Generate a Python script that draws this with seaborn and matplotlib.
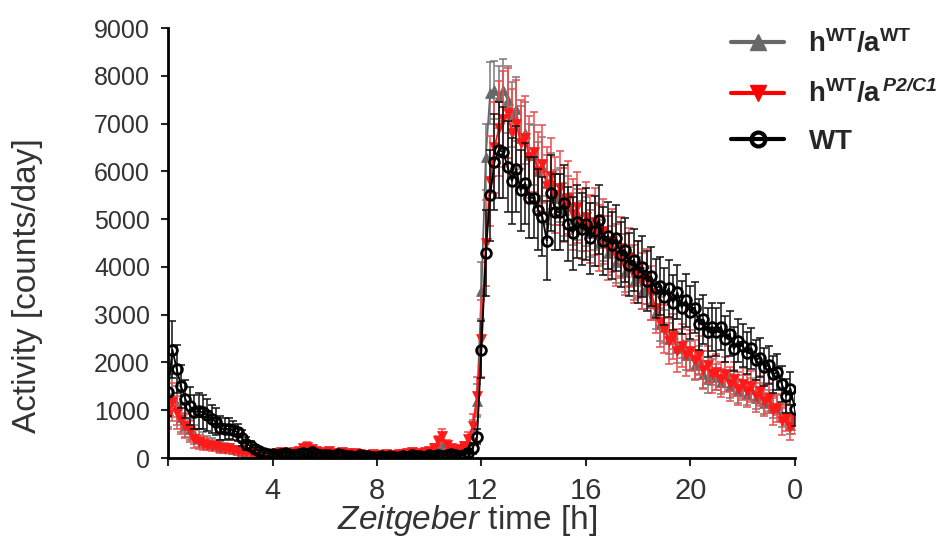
import numpy as np
import pandas as pd
import matplotlib
matplotlib.use("Agg")
import matplotlib.pyplot as plt
from matplotlib import font_manager
from matplotlib.lines import Line2D
import seaborn as sns

# time grid: 10 min bins over one day (ZT0 .. ZT24)
zt = np.arange(145) / 6.0

# h WT / a WT  (grey, up triangles)
grey_val = [
    1000, 1300, 1100, 850, 700, 600,
    500, 420, 380, 330, 300, 270,
    240, 220, 200, 180, 160, 140,
    130, 110, 100, 90, 80, 70,
    80, 90, 100, 90, 80, 100,
    110, 130, 150, 140, 120, 100,
    90, 100, 80, 90, 100, 80,
    70, 80, 60, 70, 60, 70,
    60, 50, 70, 60, 60, 80,
    70, 90, 100, 80, 90, 110,
    120, 150, 200, 250, 200, 160,
    140, 160, 220, 350, 600, 1200,
    3500, 6300, 7640, 7700, 7560, 7700,
    7500, 7200, 7300, 6700, 6800, 6350,
    6350, 6000, 6100, 5750, 5800, 5450,
    5500, 5200, 5350, 5000, 5100, 4850,
    4950, 4700, 4850, 4500, 4600, 4300,
    4400, 4100, 4250, 3900, 4000, 3700,
    3800, 3500, 3600, 3250, 3050, 2800,
    2750, 2500, 2600, 2300, 2400, 2150,
    2150, 1950, 2050, 1750, 1650, 1800,
    1700, 1600, 1750, 1500, 1600, 1400,
    1500, 1350, 1450, 1250, 1350, 1150,
    1200, 1050, 1100, 850, 900, 700,
    900,
]
grey_err = [
    350, 450, 400, 300, 250, 220,
    200, 180, 160, 140, 120, 110,
    100, 90, 80, 70, 60, 60,
    50, 50, 40, 40, 40, 40,
    40, 40, 50, 40, 40, 50,
    50, 60, 60, 60, 50, 50,
    40, 50, 40, 40, 50, 40,
    40, 40, 30, 40, 30, 40,
    30, 30, 40, 30, 30, 40,
    40, 40, 50, 40, 40, 50,
    50, 60, 80, 90, 80, 60,
    60, 60, 80, 120, 200, 350,
    600, 700, 650, 600, 650, 650,
    700, 680, 670, 660, 650, 640,
    630, 620, 610, 600, 590, 580,
    570, 560, 550, 540, 530, 520,
    510, 500, 490, 480, 470, 460,
    450, 440, 430, 420, 410, 400,
    400, 390, 380, 370, 360, 350,
    340, 330, 320, 320, 310, 300,
    300, 290, 290, 280, 280, 270,
    270, 260, 260, 250, 250, 250,
    240, 240, 230, 230, 220, 220,
    220, 210, 210, 200, 200, 190,
    200,
]

# h WT / a P2/C1  (red, down triangles)
red_val = [
    900, 1170, 950, 800, 670, 560,
    400, 330, 300, 280, 250, 260,
    200, 190, 210, 160, 140, 120,
    120, 100, 90, 80, 70, 80,
    90, 100, 120, 110, 90, 120,
    150, 200, 240, 180, 150, 120,
    110, 140, 100, 90, 120, 100,
    80, 100, 90, 70, 60, 80,
    60, 50, 80, 60, 70, 90,
    80, 100, 120, 90, 110, 130,
    150, 220, 350, 460, 280, 200,
    150, 180, 250, 400, 670, 1300,
    2500, 4500, 5800, 6500, 6900, 7100,
    7220, 6800, 7000, 6600, 6700, 6300,
    6400, 6000, 6150, 5700, 5900, 5500,
    5650, 5300, 5450, 5100, 5250, 4900,
    5050, 4800, 4950, 4600, 4750, 4400,
    4550, 4250, 4400, 4050, 4200, 3850,
    3950, 3700, 3800, 3450, 3150, 2850,
    2700, 2450, 2550, 2250, 2350, 2150,
    2250, 2050, 2150, 1850, 1950, 1750,
    1800, 1650, 1750, 1550, 1650, 1450,
    1550, 1400, 1500, 1300, 1400, 1200,
    1250, 1000, 1050, 780, 850, 650,
    800,
]
red_err = [
    300, 400, 350, 300, 250, 220,
    180, 150, 130, 120, 110, 100,
    90, 80, 80, 70, 60, 60,
    50, 50, 40, 40, 40, 40,
    40, 40, 50, 50, 40, 50,
    60, 80, 90, 70, 60, 50,
    50, 60, 40, 40, 50, 40,
    40, 40, 40, 30, 30, 40,
    30, 30, 40, 30, 30, 40,
    40, 40, 50, 40, 50, 50,
    60, 80, 120, 150, 100, 80,
    60, 70, 90, 140, 250, 400,
    800, 900, 950, 950, 1000, 1000,
    950, 930, 910, 890, 870, 850,
    840, 830, 820, 810, 800, 790,
    780, 770, 760, 750, 740, 730,
    720, 710, 700, 690, 680, 670,
    660, 650, 640, 630, 620, 610,
    600, 590, 580, 560, 540, 520,
    500, 480, 470, 460, 450, 440,
    430, 420, 410, 400, 390, 380,
    380, 370, 360, 360, 350, 350,
    340, 340, 330, 330, 320, 320,
    310, 300, 300, 290, 290, 280,
    300,
]

# WT  (black, open circles)
wt_val = [
    1380, 2270, 1860, 1500, 1230, 1090,
    960, 980, 960, 900, 820, 760,
    620, 600, 610, 580, 540, 420,
    300, 250, 190, 150, 110, 90,
    80, 60, 90, 110, 70, 60,
    80, 100, 90, 120, 80, 60,
    70, 60, 50, 80, 60, 40,
    50, 30, 60, 40, 50, 30,
    20, 40, 30, 50, 20, 30,
    40, 30, 60, 50, 40, 30,
    60, 40, 70, 50, 60, 80,
    60, 50, 70, 110, 200, 450,
    2270, 4300, 5500, 6200, 6450, 6400,
    6100, 5800, 6050, 5600, 5750, 5450,
    5450, 5200, 5050, 4550, 5550, 5150,
    5150, 5340, 4900, 4700, 4950, 4800,
    4900, 4600, 4750, 4990, 4550, 4650,
    4450, 4600, 4250, 4350, 4050, 4150,
    3900, 4000, 3700, 3800, 3550, 3600,
    3380, 3550, 3250, 3470, 3150, 3300,
    3050, 3150, 2800, 2900, 2630, 2750,
    2630, 2750, 2500, 2600, 2280, 2450,
    2350, 2200, 2300, 2050, 2100, 1900,
    1950, 1750, 1800, 1550, 1300, 1450,
    1020,
]
wt_err = [
    500, 600, 500, 450, 400, 400,
    350, 380, 350, 330, 300, 280,
    250, 230, 220, 200, 180, 160,
    130, 110, 90, 80, 60, 50,
    50, 40, 50, 60, 40, 40,
    50, 50, 50, 60, 50, 40,
    40, 40, 30, 50, 40, 30,
    30, 30, 40, 30, 30, 30,
    30, 30, 30, 40, 30, 30,
    30, 30, 40, 30, 30, 30,
    40, 30, 40, 40, 40, 50,
    40, 40, 50, 80, 120, 150,
    600, 900, 950, 1000, 1000, 950,
    950, 900, 900, 850, 850, 850,
    850, 840, 830, 820, 800, 800,
    800, 790, 780, 770, 760, 750,
    750, 740, 730, 720, 710, 700,
    700, 690, 680, 670, 660, 650,
    650, 640, 630, 620, 610, 600,
    600, 590, 580, 570, 560, 550,
    550, 540, 530, 520, 510, 500,
    500, 490, 480, 470, 460, 450,
    450, 440, 430, 420, 410, 400,
    400, 390, 380, 370, 360, 350,
    350,
]

labels = [r'$\mathbf{h^{WT}/a^{WT}}$',
          r'$\mathbf{h^{WT}/a}^{\,\mathbfit{P2/C1}}$',
          r'$\mathbf{WT}$']

sns.set_style("ticks")
names = {f.name for f in font_manager.fontManager.ttflist}
narrow = 'Liberation Sans Narrow' if 'Liberation Sans Narrow' in names else 'Liberation Sans'
plt.rcParams['font.family'] = ['Liberation Sans', 'DejaVu Sans']
plt.rcParams['mathtext.fontset'] = 'custom'
plt.rcParams['mathtext.rm'] = 'Liberation Sans'
plt.rcParams['mathtext.bf'] = 'Liberation Sans:bold'
plt.rcParams['mathtext.it'] = narrow + ':italic'
plt.rcParams['mathtext.bfit'] = 'Liberation Sans:italic:bold'

fig = plt.figure(figsize=(9.44, 5.45), dpi=100)
ax = fig.add_axes([0.178, 0.1596, 0.664, 0.789])

series = [
    (grey_val, grey_err, '#686868', '#7a7a7a', '^'),
    (red_val, red_err, '#ff1a1a', '#f04a4a', 'v'),
    (wt_val, wt_err, '#000000', '#111111', 'o'),
]
for vals, errs, col, ecol, mk in series:
    ax.errorbar(zt, vals, yerr=errs, fmt='none', ecolor=ecol,
                elinewidth=1.1, capsize=3, capthick=1.1)
    if mk == 'o':
        sns.lineplot(x=zt, y=vals, ax=ax, color=col, linewidth=1.3,
                     marker='o', markersize=7, markerfacecolor='none',
                     markeredgecolor=col, markeredgewidth=2.0,
                     errorbar=None, legend=False)
    else:
        sns.lineplot(x=zt, y=vals, ax=ax, color=col, linewidth=1.3,
                     marker=mk, markersize=7, markerfacecolor=col,
                     markeredgecolor=col, markeredgewidth=0.5,
                     errorbar=None, legend=False)

ax.set_xlim(0, 24)
ax.set_ylim(0, 9000)
ax.set_yticks(np.arange(0, 9001, 1000))
ax.set_xticks([0, 4, 8, 12, 16, 20, 24])
ax.set_xticklabels(['', '4', '8', '12', '16', '20', '0'],
                   family=[narrow, 'Liberation Sans'], fontsize=21, color='#333333')
ax.tick_params(axis='y', labelsize=18, labelcolor='#333333', length=5, width=1.5, pad=8)
ax.tick_params(axis='x', length=6, width=1.5, pad=8)
for s in ['top', 'right']:
    ax.spines[s].set_visible(False)
for s in ['left', 'bottom']:
    ax.spines[s].set_linewidth(2)
    ax.spines[s].set_color('black')

ax.set_ylabel('Activity [counts/day]', fontsize=24, color='#333333')
ax.yaxis.set_label_coords(-0.20, 0.40)
ax.set_xlabel(r'$\mathit{Zeitgeber}$ time [h]', fontsize=24, color='#333333',
              family=[narrow, 'Liberation Sans'])
ax.xaxis.set_label_coords(0.477, -0.105)

handles = [
    Line2D([], [], color='#686868', lw=3, marker='^', markersize=12),
    Line2D([], [], color='#ff0000', lw=3, marker='v', markersize=12),
    Line2D([], [], color='#000000', lw=3, marker='o', markersize=10,
           markerfacecolor='none', markeredgewidth=3),
]
fig.legend(handles, labels, loc='upper left', bbox_to_anchor=(0.754, 0.982),
           frameon=False, fontsize=20, handlelength=1.9, handletextpad=0.85,
           labelspacing=0.75, borderaxespad=0.3)

fig.savefig('out.png', dpi=100)
